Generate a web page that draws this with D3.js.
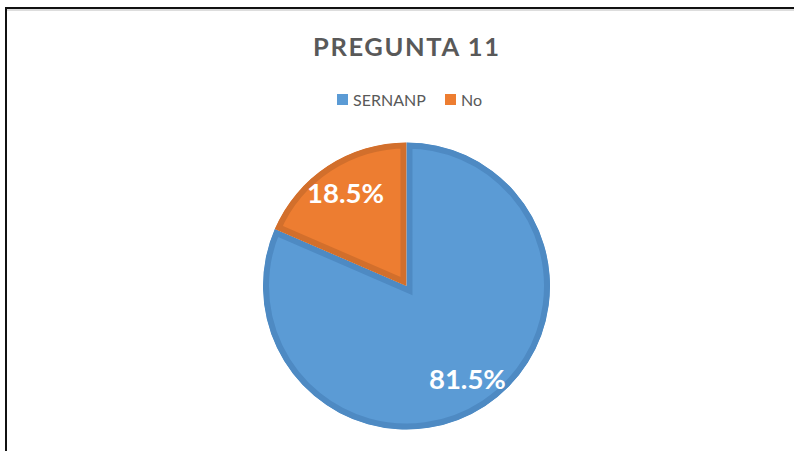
<!DOCTYPE html>
<html><head><meta charset="utf-8">
<script src="https://cdn.jsdelivr.net/npm/d3@7"></script>
<style>body{margin:0;background:#fff;}svg{display:block;}</style>
</head><body>
<svg id="c" width="794" height="451"></svg>
<script>
const categories = ["SERNANP", "No"];
const values = [81.5, 18.5];
const labels = ["81.5%", "18.5%"];
const title = "PREGUNTA 11";
const fills = ["#5B9BD5", "#ED7D31"];
const strokes = ["#4E8AC3", "#D26F2C"];

const svg = d3.select("#c");
svg.append("rect").attr("width",794).attr("height",451).attr("fill","#fff");
svg.append("rect").attr("x",6).attr("y",8).attr("width",820).attr("height",500)
  .attr("fill","none").attr("stroke","#111").attr("stroke-width",2);
svg.append("line").attr("x1",7).attr("x2",794).attr("y1",10).attr("y2",10)
  .attr("stroke","#bbb").attr("stroke-width",1);

svg.append("text").attr("x",406).attr("y",56).attr("text-anchor","middle")
  .attr("font-family","Lato, 'Open Sans', sans-serif").attr("font-weight","bold")
  .attr("font-size",25.5).attr("fill","#595959")
  .attr("textLength",186).attr("lengthAdjust","spacing").text(title);

// legend
const legX = [337, 445];
const leg = svg.append("g");
categories.forEach((c,i)=>{
  leg.append("rect").attr("x",legX[i]).attr("y",94).attr("width",11).attr("height",11).attr("fill",fills[i]);
  leg.append("text").attr("x",legX[i]+16).attr("y",106)
    .attr("font-family","Lato, 'Open Sans', sans-serif").attr("font-size",16)
    .attr("fill","#595959").text(c);
});

const cx = 406.5, cy = 286, r = 143.5;
const pie = d3.pie().sort(null).value(d=>d)(values);
const arc = d3.arc().innerRadius(0).outerRadius(r);
const g = svg.append("g").attr("transform",`translate(${cx},${cy})`);
const defs = svg.append("defs");
pie.forEach((p,i)=>{
  defs.append("clipPath").attr("id","clip"+i).append("path").attr("d",arc(p));
  g.append("path").attr("d",arc(p)).attr("fill",fills[i])
    .attr("stroke",strokes[i]).attr("stroke-width",12).attr("stroke-linejoin","miter")
    .attr("clip-path",`url(#clip${i})`);
});
const labelArc = d3.arc().innerRadius(111).outerRadius(111);
pie.forEach((p,i)=>{
  const [x,y] = labelArc.centroid(p);
  g.append("text").attr("x",x).attr("y",y).attr("dy","0.36em").attr("text-anchor","middle")
    .attr("font-family","Lato, 'Open Sans', sans-serif").attr("font-weight","bold")
    .attr("font-size",27.5).attr("fill","#fff").text(labels[i]);
});
</script>
</body></html>
